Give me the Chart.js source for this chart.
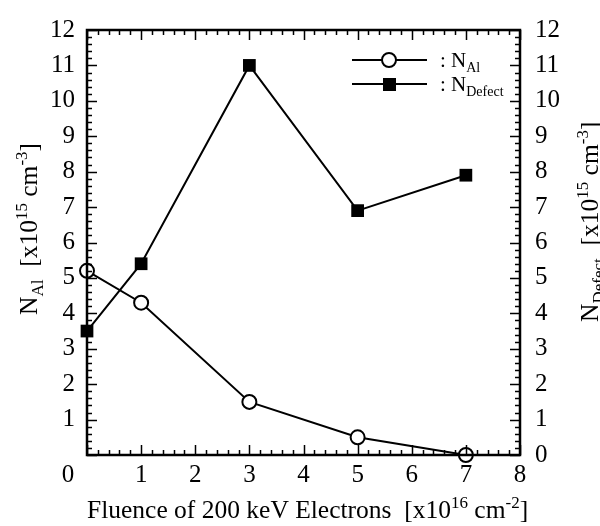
<!DOCTYPE html>
<html>
<head>
<meta charset="utf-8">
<script src="https://cdn.jsdelivr.net/npm/chart.js@4.4.1/dist/chart.umd.min.js"></script>
<style>
  html, body { margin: 0; padding: 0; background: #fff; }
</style>
</head>
<body>
<canvas id="chart" width="600" height="526"></canvas>
<script>
// data
const fluence = [0, 1, 3, 5, 7];
const nAl = [5.2, 4.3, 1.5, 0.5, 0.0];
const nDefect = [3.5, 5.4, 11.0, 6.9, 7.9];

const FONT = '"Liberation Serif", "Times New Roman", serif';

// draw text with sub/superscript parts, returns end x
function richText(ctx, parts, x, y, size, small) {
  let cx = x;
  parts.forEach(p => {
    const s = p.s ? small : size;
    ctx.font = s + 'px ' + FONT;
    let dy = 0;
    if (p.s === 'sub') dy = size * 0.25;
    if (p.s === 'sup') dy = -size * 0.40;
    ctx.fillText(p.t, cx, y + dy);
    cx += ctx.measureText(p.t).width;
  });
  return cx;
}

const framePlugin = {
  id: 'frame',
  afterDraw(chart) {
    const ctx = chart.ctx;
    const a = chart.chartArea;
    const xs = chart.scales.x, yl = chart.scales.y, yr = chart.scales.y2;
    ctx.save();
    ctx.strokeStyle = '#000';
    ctx.fillStyle = '#000';

    // tick marks, inward, all four sides
    ctx.lineWidth = 1.5;
    ctx.beginPath();
    for (let i = 0; i <= 40; i++) {
      const px = Math.round(xs.getPixelForValue(i / 5)) + 0.5;
      const len = i % 5 === 0 ? 10 : 5;
      ctx.moveTo(px, a.bottom); ctx.lineTo(px, a.bottom - len);
      ctx.moveTo(px, a.top); ctx.lineTo(px, a.top + len);
    }
    for (let i = 0; i <= 60; i++) {
      const py = Math.round(yl.getPixelForValue(i / 5)) + 0.5;
      const len = i % 5 === 0 ? 10 : 5;
      ctx.moveTo(a.left, py); ctx.lineTo(a.left + len, py);
      const pr = Math.round(yr.getPixelForValue(i / 5)) + 0.5;
      ctx.moveTo(a.right, pr); ctx.lineTo(a.right - len, pr);
    }
    ctx.stroke();

    // frame
    ctx.lineWidth = 2.5;
    ctx.strokeRect(a.left, a.top, a.right - a.left, a.bottom - a.top);

    // shared "0" in the lower-left corner
    ctx.font = '25px ' + FONT;
    ctx.textAlign = 'center';
    ctx.textBaseline = 'middle';
    ctx.fillText('0', xs.getPixelForValue(0) - 19, a.bottom + 20);

    // axis titles
    ctx.textAlign = 'left';
    ctx.textBaseline = 'alphabetic';
    richText(ctx, [
      { t: 'Fluence of 200 keV Electrons  [x10' }, { t: '16', s: 'sup' },
      { t: ' cm' }, { t: '-2', s: 'sup' }, { t: ']' }
    ], 87, 518, 25.5, 17);

    ctx.save();
    ctx.translate(37, 315);
    ctx.rotate(-Math.PI / 2);
    richText(ctx, [
      { t: 'N' }, { t: 'Al', s: 'sub' }, { t: '  [x10' }, { t: '15', s: 'sup' },
      { t: ' cm' }, { t: '-3', s: 'sup' }, { t: ']' }
    ], 0, 0, 25.5, 17);
    ctx.restore();

    ctx.save();
    ctx.translate(598, 322);
    ctx.rotate(-Math.PI / 2);
    richText(ctx, [
      { t: 'N' }, { t: 'Defect', s: 'sub' }, { t: '  [x10' }, { t: '15', s: 'sup' },
      { t: ' cm' }, { t: '-3', s: 'sup' }, { t: ']' }
    ], 0, 0, 25.5, 17);
    ctx.restore();

    // legend
    ctx.lineWidth = 2;
    ctx.beginPath();
    ctx.moveTo(352, 60); ctx.lineTo(427, 60);
    ctx.moveTo(352, 84); ctx.lineTo(427, 84);
    ctx.stroke();
    ctx.beginPath();
    ctx.arc(389, 60, 7, 0, Math.PI * 2);
    ctx.fillStyle = '#fff';
    ctx.fill();
    ctx.stroke();
    ctx.fillStyle = '#000';
    ctx.fillRect(383, 78, 13, 13);
    richText(ctx, [{ t: ': N' }, { t: 'Al', s: 'sub' }], 440, 67, 21, 14);
    richText(ctx, [{ t: ': N' }, { t: 'Defect', s: 'sub' }], 440, 91, 21, 14);

    ctx.restore();
  }
};

const tickFont = { family: FONT, size: 25 };

new Chart(document.getElementById('chart'), {
  type: 'line',
  data: {
    datasets: [
      {
        label: 'N_Al',
        data: fluence.map((x, i) => ({ x: x, y: nAl[i] })),
        borderColor: '#000',
        borderWidth: 2,
        pointStyle: 'circle',
        pointRadius: 7,
        pointBackgroundColor: '#fff',
        pointBorderColor: '#000',
        pointBorderWidth: 2,
        yAxisID: 'y',
        clip: false
      },
      {
        label: 'N_Defect',
        data: fluence.map((x, i) => ({ x: x, y: nDefect[i] })),
        borderColor: '#000',
        borderWidth: 2,
        pointStyle: 'rect',
        pointRadius: 9,
        pointBackgroundColor: '#000',
        pointBorderColor: '#000',
        pointBorderWidth: 0,
        yAxisID: 'y2',
        clip: false
      }
    ]
  },
  options: {
    responsive: false,
    animation: false,
    layout: { padding: { top: 21, left: 0, right: 0, bottom: 0 } },
    plugins: { legend: { display: false }, tooltip: { enabled: false } },
    scales: {
      x: {
        type: 'linear',
        min: 0, max: 8,
        grid: { display: false, drawTicks: false },
        border: { display: false },
        ticks: {
          stepSize: 1, color: '#000', font: tickFont, padding: 5,
          callback: v => (v === 0 ? '' : v)
        },
        afterFit: s => { s.height = 71; }
      },
      y: {
        position: 'left',
        min: 0, max: 12,
        grid: { display: false, drawTicks: false },
        border: { display: false },
        ticks: {
          stepSize: 1, color: '#000', font: tickFont, padding: 12,
          callback: v => (v === 0 ? '' : v)
        },
        afterFit: s => { s.width = 87; }
      },
      y2: {
        position: 'right',
        min: 0, max: 12,
        grid: { display: false, drawTicks: false },
        border: { display: false },
        ticks: { stepSize: 1, color: '#000', font: tickFont, padding: 15 },
        afterFit: s => { s.width = 80; }
      }
    }
  },
  plugins: [framePlugin]
});
</script>
</body>
</html>
